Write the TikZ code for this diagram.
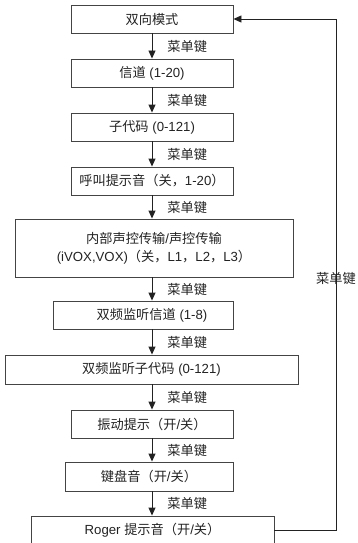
\documentclass[tikz,border=0pt]{standalone}
\usepackage{fontspec}
\setmainfont{Liberation Sans}
\newfontfamily\cjk{Noto Sans CJK SC}
\usetikzlibrary{arrows.meta}
\newcommand\zh[1]{{\cjk #1}}
\definecolor{ink}{HTML}{222222}
\definecolor{edge}{HTML}{444444}
\begin{document}
\begin{tikzpicture}[x=1pt,y=-1pt,
  font=\fontsize{13.2}{18}\selectfont,
  stepbox/.style={draw=edge, line width=0.9pt, minimum height=28pt, inner sep=0pt, text=ink, align=center},
  flow/.style={draw=ink, line width=0.9pt, -{Triangle[width=7pt,length=8pt]}},
  keylab/.style={text=ink, inner sep=1pt, font=\fontsize{13.2}{15}\selectfont\cjk}
]
\useasboundingbox (0,0) rectangle (358,543);
\clip (0,0) rectangle (358,543);
\node[stepbox, minimum width=162pt] (b1) at (152,19) {\zh{双向模式}};
\node[stepbox, minimum width=162pt] (b2) at (152,73) {\zh{信道} (1-20)};
\node[stepbox, minimum width=162pt] (b3) at (152,127) {\zh{子代码} (0-121)};
\node[stepbox, minimum width=162pt] (b4) at (152,181) {\zh{呼叫提示音（关，}1-20\zh{）}};
\node[stepbox, minimum width=278pt, minimum height=58pt] (b5) at (154,248) {\zh{内部声控传输}/\zh{声控传输}\\(iVOX,VOX)\zh{（关，}L1\zh{，}L2\zh{，}L3\zh{）}};
\node[stepbox, minimum width=180pt] (b6) at (143,315) {\hspace*{18pt}\zh{双频监听信道} (1-8)};
\node[stepbox, minimum width=293pt, minimum height=29pt] (b7) at (151.5,369.5) {\zh{双频监听子代码} (0-121)};
\node[stepbox, minimum width=162pt] (b8) at (152,424) {\zh{振动提示（开}/\zh{关）}};
\node[stepbox, minimum width=168pt, minimum height=29pt] (b9) at (149,476.5) {\zh{键盘音（开}/\zh{关）}};
\node[stepbox, minimum width=243pt] (b10) at (152.5,530) {Roger \zh{提示音（开}/\zh{关）}};
\foreach \a/\b in {b1/b2,b2/b3,b3/b4,b4/b5,b5/b6,b6/b7,b7/b8,b8/b9,b9/b10}{
  \draw[flow] (\a.south -| 152,0) -- (\b.north -| 152,0)
    node[midway, keylab, anchor=west, xshift=14pt] {菜单键};
}
\coordinate (c1) at (336,530);
\coordinate (c2) at (336,19);
\draw[flow] (b10.east) -- (c1) -- (c2) -- (b1.east);
\node[keylab] (back) at (336,278) {菜单键};
\end{tikzpicture}
\end{document}
